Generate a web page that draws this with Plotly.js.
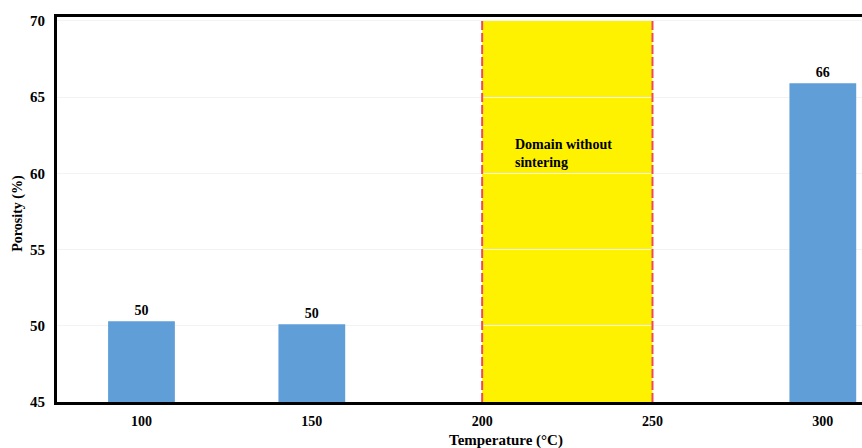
<!DOCTYPE html>
<html>
<head>
<meta charset="utf-8">
<script src="https://cdn.plot.ly/plotly-3.0.1.min.js"></script>
<style>html,body{margin:0;padding:0;background:#fff}#chart{width:862px;height:448px}</style>
</head>
<body>
<div id="chart"></div>
<script>
const temperatures = [100, 150, 300];
const porosity = [50.3, 50.1, 65.9];
const barLabels = ["50", "50", "66"];
const xTicks = [100, 150, 200, 250, 300];
const yTicks = [45, 50, 55, 60, 65, 70];
const domainRange = [200, 250];
const domainLabel = "Domain without<br>sintering";
const xTitle = "Temperature (°C)";
const yTitle = "Porosity (%)";

const font = "'Liberation Serif', 'Times New Roman', serif";

const trace = {
  type: "bar",
  x: temperatures,
  y: porosity,
  width: 19.6,
  marker: {color: "#5F9ED6"},
  text: barLabels,
  textposition: "outside",
  cliponaxis: false,
  textfont: {family: font, size: 14, color: "#000", weight: "bold"},
  hoverinfo: "none"
};

const layout = {
  width: 862, height: 448,
  margin: {l: 57, r: 0, t: 17, b: 46},
  paper_bgcolor: "#fff", plot_bgcolor: "#fff",
  showlegend: false,
  xaxis: {
    range: [75.2, 311.5],
    tickvals: xTicks,
    ticktext: xTicks.map(String),
    showgrid: false, zeroline: false,
    showline: true, linecolor: "#000", linewidth: 3, mirror: true,
    ticks: "", ticklen: 0, ticklabelstandoff: 4,
    tickfont: {family: font, size: 14, color: "#000", weight: "bold"}
  },
  yaxis: {
    range: [45, 70.25],
    tickvals: yTicks,
    showgrid: true, gridcolor: "#f3f3f3", gridwidth: 1,
    zeroline: false,
    showline: true, linecolor: "#000", linewidth: 3,
    ticks: "", ticklabelstandoff: 6,
    tickfont: {family: font, size: 15, color: "#000", weight: "bold"}
  },
  shapes: [
    {type: "rect", xref: "x", yref: "y", x0: domainRange[0], x1: domainRange[1], y0: 45, y1: 70,
     fillcolor: "#FFF200", line: {width: 0}, layer: "below"},
    {type: "line", xref: "x", yref: "y", x0: domainRange[0], x1: domainRange[0], y0: 45, y1: 70,
     line: {color: "#F04A5A", width: 2, dash: "9px,3px"}},
    {type: "line", xref: "x", yref: "y", x0: domainRange[1], x1: domainRange[1], y0: 45, y1: 70,
     line: {color: "#F04A5A", width: 2, dash: "9px,3px"}}
  ],
  annotations: [
    {xref: "x", yref: "y", x: domainRange[0] + 9, y: 61.3, xanchor: "left", yanchor: "middle",
     align: "left", showarrow: false, text: domainLabel,
     font: {family: font, size: 14, color: "#000", weight: "bold"}},
    {xref: "paper", yref: "paper", x: 0.558, y: -0.099, xanchor: "center", yanchor: "middle",
     showarrow: false, text: xTitle,
     font: {family: font, size: 15, color: "#000", weight: "bold"}},
    {xref: "paper", yref: "paper", x: -0.048, y: 0.49, xanchor: "center", yanchor: "middle",
     textangle: -90, showarrow: false, text: yTitle,
     font: {family: font, size: 14, color: "#000", weight: "bold"}}
  ]
};

Plotly.newPlot("chart", [trace], layout, {displayModeBar: false, staticPlot: true});
</script>
</body>
</html>
